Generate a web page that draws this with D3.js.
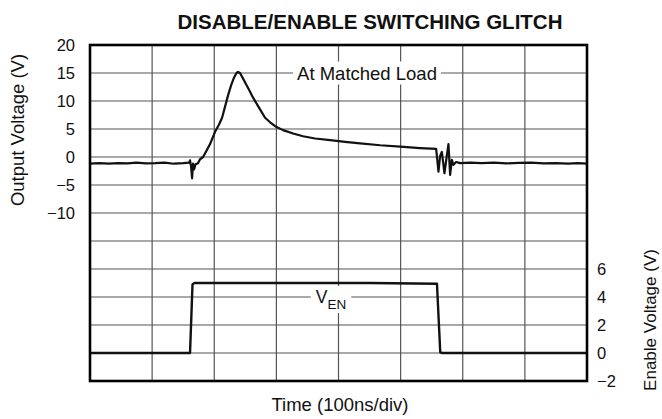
<!DOCTYPE html>
<html>
<head>
<meta charset="utf-8">
<script src="https://cdn.jsdelivr.net/npm/d3@7"></script>
<style>
  html, body { margin: 0; padding: 0; background: #fff; }
  svg { display: block; font-family: "Liberation Sans", Arial, Helvetica, sans-serif; }
</style>
</head>
<body>
<svg id="chart" width="662" height="419"></svg>
<script>
// ---- data (time in divisions of 100 ns) ----
const outTime = [0, 0.15, 0.3, 0.45, 0.6, 0.75, 0.9, 1.05, 1.2, 1.35, 1.5, 1.594, 1.61, 1.626, 1.643, 1.659, 1.675, 1.699, 1.739, 1.771, 1.82, 1.868, 1.932, 2.013, 2.077, 2.126, 2.174, 2.222, 2.271, 2.319, 2.359, 2.383, 2.415, 2.464, 2.512, 2.56, 2.625, 2.689, 2.754, 2.818, 2.899, 2.995, 3.108, 3.269, 3.43, 3.623, 3.865, 4.106, 4.348, 4.67, 4.992, 5.314, 5.572, 5.609, 5.636, 5.663, 5.685, 5.705, 5.741, 5.77, 5.797, 5.824, 5.85, 5.894, 5.958, 6.119, 6.3, 6.5, 6.7, 6.9, 7.1, 7.3, 7.5, 7.7, 7.85, 8.0];
const outVolt = [-1.2, -1.1, -1.2, -1.1, -1.15, -1.0, -1.15, -1.1, -1.0, -1.2, -1.1, -1.0, -0.6, -1.6, -3.8, -1.2, -2.2, -1.3, -1.1, -0.4, 0.0, 1.0, 2.3, 4.5, 5.8, 7.0, 9.0, 11.0, 12.8, 14.2, 15.0, 15.2, 15.0, 14.0, 13.0, 12.0, 10.6, 9.4, 8.2, 7.0, 6.2, 5.4, 4.8, 4.2, 3.7, 3.3, 3.0, 2.7, 2.45, 2.1, 1.85, 1.6, 1.45, -2.6, 0.2, 0.9, -1.0, -2.9, 0.0, 2.3, -3.2, -0.5, -1.4, -0.9, -1.1, -1.0, -1.1, -1.0, -1.15, -1.05, -1.0, -1.15, -1.1, -1.2, -1.1, -1.2];

const enTime = [0, 1.61, 1.65, 1.68, 2.5, 3.5, 4.5, 5.585, 5.638, 5.67, 8.0];
const enVolt = [0, 0, 4.9, 5.0, 5.0, 5.0, 5.0, 4.95, 0.05, 0, 0];

const leftTicks = [20, 15, 10, 5, 0, -5, -10];
const rightTicks = [6, 4, 2, 0, -2];

const titleText = "DISABLE/ENABLE SWITCHING GLITCH";
const xTitle = "Time (100ns/div)";
const yLeftTitle = "Output Voltage (V)";
const yRightTitle = "Enable Voltage (V)";
const traceLabel = "At Matched Load";

// ---- layout ----
const L = 90, R = 587, T = 45, B = 381;
const svg = d3.select("#chart");

const x = d3.scaleLinear().domain([0, 8]).range([L, R]);
const yL = d3.scaleLinear().domain([-40, 20]).range([B, T]);
const yR = d3.scaleLinear().domain([-2, 22]).range([B, T]);

// grid
const grid = svg.append("g").attr("stroke", "#555").attr("stroke-width", 1.2);
grid.selectAll("line.v").data(d3.range(1, 8)).join("line")
  .attr("x1", d => x(d)).attr("x2", d => x(d)).attr("y1", T).attr("y2", B);
grid.selectAll("line.h").data(d3.range(-35, 20, 5)).join("line")
  .attr("x1", L).attr("x2", R).attr("y1", d => yL(d)).attr("y2", d => yL(d));

// traces
const lineOut = d3.line().x((d, i) => x(outTime[i])).y(d => yL(d));
svg.append("path").datum(outVolt).attr("d", lineOut)
  .attr("fill", "none").attr("stroke", "#111").attr("stroke-width", 2.2).attr("stroke-linejoin", "round");
const lineEn = d3.line().x((d, i) => x(enTime[i])).y(d => yR(d));
svg.append("path").datum(enVolt).attr("d", lineEn)
  .attr("fill", "none").attr("stroke", "#111").attr("stroke-width", 2.4).attr("stroke-linejoin", "round");

// labels with white background
function boxedLabel(build, padX) {
  const g = svg.append("g");
  const rect = g.append("rect").attr("fill", "#fff");
  const t = build(g);
  const bb = t.node().getBBox();
  rect.attr("x", bb.x - padX).attr("y", bb.y - 1).attr("width", bb.width + 2 * padX).attr("height", bb.height + 2);
}
boxedLabel(g => g.append("text").attr("x", 367).attr("y", yL(15) + 6.5)
  .attr("text-anchor", "middle").attr("font-size", 18.5).attr("fill", "#111").text(traceLabel), 4);
boxedLabel(g => {
  const t = g.append("text").attr("x", 331).attr("y", yR(4) + 6)
    .attr("text-anchor", "middle").attr("font-size", 17.5).attr("fill", "#111");
  t.append("tspan").text("V");
  t.append("tspan").attr("font-size", 13.5).attr("dy", 6).text("EN");
  return t;
}, 5);

// frame
svg.append("rect").attr("x", L).attr("y", T).attr("width", R - L).attr("height", B - T)
  .attr("fill", "none").attr("stroke", "#000").attr("stroke-width", 2.6);

// axes
const axL = svg.append("g").attr("transform", `translate(${L},0)`)
  .call(d3.axisLeft(yL).tickValues(leftTicks).tickSize(0).tickPadding(15));
const axR = svg.append("g").attr("transform", `translate(${R},0)`)
  .call(d3.axisRight(yR).tickValues(rightTicks).tickSize(0).tickPadding(10));
[axL, axR].forEach(a => {
  a.select(".domain").remove();
  a.selectAll("text").attr("font-size", 16.5).attr("fill", "#111")
    .attr("font-family", "Liberation Sans, Arial, sans-serif");
});

// titles
svg.append("text").attr("x", 370).attr("y", 29).attr("text-anchor", "middle")
  .attr("font-size", 20.5).attr("font-weight", "bold").attr("fill", "#111").text(titleText);
svg.append("text").attr("x", 340).attr("y", 411).attr("text-anchor", "middle")
  .attr("font-size", 18.5).attr("fill", "#111").text(xTitle);
svg.append("text").attr("transform", `translate(24,130) rotate(-90)`).attr("text-anchor", "middle")
  .attr("font-size", 18.5).attr("fill", "#111").text(yLeftTitle);
svg.append("text").attr("transform", `translate(656,320) rotate(-90)`).attr("text-anchor", "middle")
  .attr("font-size", 17).attr("fill", "#111").text(yRightTitle);
</script>
</body>
</html>
